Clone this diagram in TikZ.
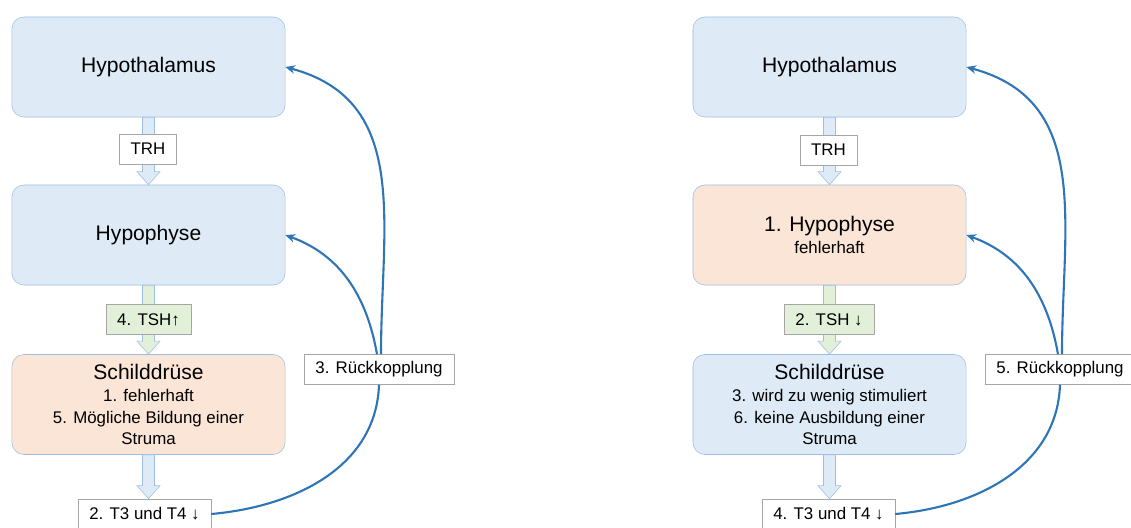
\documentclass[tikz,border=0pt]{standalone}
\usepackage{fontspec}
\setmainfont{Liberation Sans}
\usepackage{tikz}
\usetikzlibrary{calc}
\usetikzlibrary{arrows.meta,positioning}
\definecolor{organblue}{RGB}{222,235,247}
\definecolor{organorange}{RGB}{251,229,214}
\definecolor{hormgreen}{RGB}{226,240,217}
\definecolor{edgeblue}{RGB}{157,190,226}
\definecolor{loopblue}{RGB}{46,117,182}

\begin{document}
\begin{tikzpicture}[x=0.025cm, y=0.025cm]
      \tikzstyle{organ}=[rectangle,rounded corners=0.3cm,draw=edgeblue,fill=organblue,align=center,minimum width=6.825cm,minimum height=2.5cm,font=\fontsize{12}{15.6}\selectfont]
      \tikzstyle{hormone}=[rectangle,draw=gray!70,fill=white,inner xsep=8pt,inner ysep=0pt,minimum height=0.75cm,font=\fontsize{12}{14}\selectfont]
      \tikzstyle{fat}=[draw=edgeblue,fill=organblue,to path={($(\tikztostart)+(-6,0)$) -- ($(\tikztotarget -| \tikztostart)+(-6,13)$) -- ($(\tikztotarget -| \tikztostart)+(-11.5,13)$) -- (\tikztotarget -| \tikztostart) -- ($(\tikztotarget -| \tikztostart)+(11.5,13)$) -- ($(\tikztotarget -| \tikztostart)+(6,13)$) -- ($(\tikztostart)+(6,0)$) -- cycle}]
      \tikzstyle{loop}=[draw=loopblue,line width=1.5pt,-{Stealth[length=7pt,width=6pt]}]
      \newcommand{\organtitle}[1]{{\fontsize{15}{17}\selectfont #1}}
      \useasboundingbox (0,0) rectangle (1131,527);

      % left: Schilddruese fehlerhaft
      \node[organ] (hypothL) at (148.5,460) {\organtitle{Hypothalamus}};
      \node[organ] (hypophL) at (148.5,292) {\organtitle{Hypophyse}};
      \node[organ,fill=organorange] (schildL) at (148.5,122.5) {\organtitle{Schilddrüse}\\1. fehlerhaft\\5. Mögliche Bildung einer\\Struma};
      \node[hormone] (tthreeL) at (144.5,13) {2. T3 und T4 ↓};
      \draw[fat] (hypothL.south) to (hypophL.north);
      \draw[fat,fill=hormgreen] (hypophL.south) to (schildL.north);
      \draw[fat] (schildL.south) to (tthreeL.north);
      \node[hormone] (trhL) at (148,378) {TRH};
      \node[hormone,fill=hormgreen] (tshL) at (148.5,207.5) {4. TSH↑};
      \node[hormone] (rueckL) at (379,157.5) {3. Rückkopplung};
      \draw[loop,-] (tthreeL.east) to[out=5,in=-92] (rueckL.south);
      \draw[loop] ($(rueckL.north)+(2,0)$) to[out=90,in=-15,looseness=1.1] (hypothL.east);
      \draw[loop] ($(rueckL.north)+(-2,0)$) to[out=100,in=-20] (hypophL.east);

      % right: Hypophyse fehlerhaft
      \node[organ] (hypothR) at (829.5,460) {\organtitle{Hypothalamus}};
      \node[organ,fill=organorange] (hypophR) at (829.5,292) {\organtitle{1. Hypophyse}\\fehlerhaft};
      \node[organ] (schildR) at (829.5,122.5) {\organtitle{Schilddrüse}\\3. wird zu wenig stimuliert\\6. keine Ausbildung einer\\Struma};
      \node[hormone] (tthreeR) at (828.5,13) {4. T3 und T4 ↓};
      \draw[fat] (hypothR.south) to (hypophR.north);
      \draw[fat,fill=hormgreen] (hypophR.south) to (schildR.north);
      \draw[fat] (schildR.south) to (tthreeR.north);
      \node[hormone] (trhR) at (828.5,377) {TRH};
      \node[hormone,fill=hormgreen] (tshR) at (829,207.5) {2. TSH ↓};
      \node[hormone] (rueckR) at (1060,157.5) {5. Rückkopplung};
      \draw[loop,-] (tthreeR.east) to[out=5,in=-92] (rueckR.south);
      \draw[loop] ($(rueckR.north)+(2,0)$) to[out=90,in=-15,looseness=1.1] (hypothR.east);
      \draw[loop] ($(rueckR.north)+(-2,0)$) to[out=100,in=-20] (hypophR.east);

    \end{tikzpicture}
\end{document}
